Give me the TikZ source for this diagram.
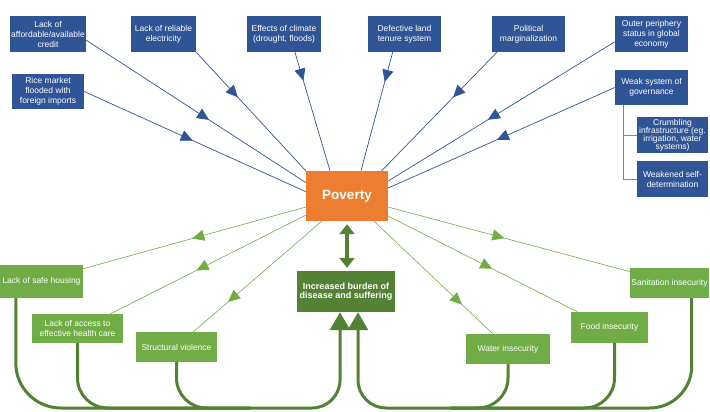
\documentclass[tikz,border=0pt]{standalone}
\usepackage{fontspec}
\setmainfont{Liberation Sans}
\usetikzlibrary{arrows.meta,decorations.markings}
\definecolor{causeblue}{HTML}{2F5597}
\definecolor{povertyorange}{HTML}{ED7D31}
\definecolor{effectgreen}{HTML}{70AD47}
\definecolor{burdengreen}{HTML}{548235}

\begin{document}
\begin{tikzpicture}[x=1pt,y=-1pt,
		box/.style={align=center,inner sep=1pt,text=white,font=\fontsize{8.5}{10}\selectfont},
		cause/.style={box,fill=causeblue,minimum height=36pt},
		effect/.style={box,fill=effectgreen,minimum height=30pt},
		causeline/.style={draw=causeblue,line width=0.7pt},
		effectline/.style={draw=effectgreen,line width=0.6pt},
		midarrow/.style={postaction={decorate,decoration={markings,mark=at position #1 with {\arrow{Triangle[length=12pt,width=11pt]}}}}},
		flow/.style={draw=burdengreen,line width=3pt},
		bigtip/.style={-{Triangle[length=18pt,width=20pt]}}]
	\useasboundingbox (0,0) rectangle (710,412);
	\node[cause,minimum width=72pt] (credit) at (48,34) {Lack of\\affordable/available\\credit};
	\node[cause,minimum width=65pt] (electricity) at (163.5,34) {Lack of reliable\\electricity};
	\node[cause,minimum width=74pt] (climate) at (284,34) {Effects of climate\\(drought, floods)};
	\node[cause,minimum width=73pt] (land) at (404.5,34) {Defective land\\tenure system};
	\node[cause,minimum width=73pt] (political) at (528.5,34) {Political\\marginalization};
	\node[cause,minimum width=73pt] (outer) at (651.5,34) {Outer periphery\\status in global\\economy};
	\node[cause,minimum width=72pt,minimum height=35pt] (rice) at (48,91.5) {Rice market\\flooded with\\foreign imports};
	\node[cause,minimum width=73pt,minimum height=35pt] (weak) at (651.5,87.5) {Weak system of\\governance};
	\node[cause,minimum width=71pt,font=\fontsize{8.5}{8}\selectfont] (crumbling) at (672.5,135) {Crumbling\\infrastructure (eg.\\irrigation, water\\systems)};
	\node[cause,minimum width=71pt] (weakened) at (672.5,179) {Weakened self-\\determination};
	\node[box,fill=povertyorange,minimum width=82pt,minimum height=50pt,font=\fontsize{13.5}{15}\bfseries] (pov) at (347,196) {Poverty};
	\node[box,fill=burdengreen,minimum width=98pt,minimum height=41pt,font=\fontsize{9}{9.5}\bfseries] (burden) at (346,291.5) {Increased burden of\\disease and suffering};
	\node[effect,minimum width=83pt,minimum height=33pt] (housing) at (41.5,281.5) {Lack of safe housing};
	\node[effect,minimum width=91pt,minimum height=29pt] (health) at (77.5,328.5) {Lack of access to\\effective health care};
	\node[effect,minimum width=81pt] (structural) at (176.5,347) {Structural violence};
	\node[effect,minimum width=84pt] (water) at (508,349) {Water insecurity};
	\node[effect,minimum width=77pt,minimum height=31pt] (food) at (609.5,327.5) {Food insecurity};
	\node[effect,minimum width=77pt] (sanitation) at (669.5,283) {Sanitation insecurity};
	\draw[causeline,midarrow=0.56] (credit.-9) -- (pov.162);
	\draw[causeline,midarrow=0.49] (rice.east) -- (pov.174);
	\draw[causeline,midarrow=0.38] (electricity.south east) -- (pov.north west);
	\draw[causeline,midarrow=0.24] (climate.-59) -- (pov.124);
	\draw[causeline,midarrow=0.25] (land.237) -- (pov.61);
	\draw[causeline,midarrow=0.38] (political.210) -- (pov.36);
	\draw[causeline,midarrow=0.56] (outer.192) -- (pov.20);
	\draw[causeline,midarrow=0.52] (weak.west) -- (pov.11);
	\draw[causeline,draw=causeblue!70] ([xshift=-28pt]weak.south) |- (crumbling.west);
	\draw[causeline,draw=causeblue!70] ([xshift=-28pt]weak.south) |- (weakened.west);
	\draw[effectline,midarrow=0.51] (pov.195) -- (housing.17);
	\draw[effectline,midarrow=0.56] (pov.205) -- (health.24);
	\draw[effectline,midarrow=0.73] (pov.225) -- (structural.42);
	\draw[effectline,midarrow=0.48] (pov.345) -- (sanitation.164);
	\draw[effectline,midarrow=0.55] (pov.334) -- (food.154);
	\draw[effectline,midarrow=0.74] (pov.317) -- (water.135);
	\draw[draw=burdengreen,line width=4.5pt,{Triangle[length=10pt,width=15pt]}-{Triangle[length=10pt,width=15pt]},shorten <=3pt,shorten >=3pt] (pov.south) -- (pov.south |- burden.north);
	\coordinate (lbus) at (250,408);
	\coordinate (rbus) at (450,408);
	\draw[flow,rounded corners=45pt] ([xshift=16pt]housing.south west) |- (lbus);
	\draw[flow,rounded corners=30pt] (health.south) |- (lbus);
	\draw[flow,rounded corners=30pt] (structural.south) |- (lbus);
	\draw[flow,bigtip,rounded corners=28pt] (lbus) -| ([xshift=-6pt]burden.south);
	\draw[flow,rounded corners=30pt] (water.south) |- (rbus);
	\draw[flow,rounded corners=30pt] ([xshift=5pt]food.south) |- (rbus);
	\draw[flow,rounded corners=42pt] ([xshift=-17pt]sanitation.south east) |- (rbus);
	\draw[flow,bigtip,rounded corners=28pt] (rbus) -| ([xshift=12pt]burden.south);
\end{tikzpicture}
\end{document}
